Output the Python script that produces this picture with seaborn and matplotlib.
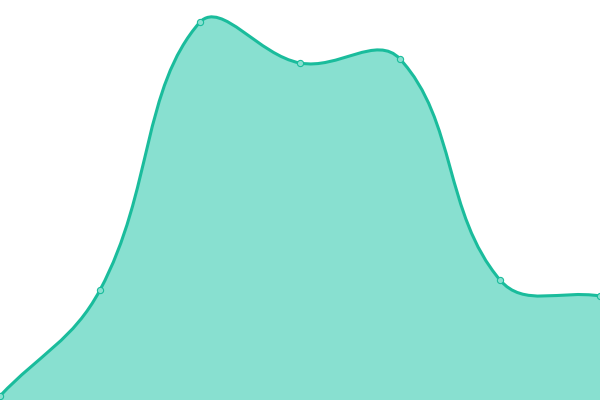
import numpy as np
import pandas as pd
import matplotlib
matplotlib.use("Agg")
import matplotlib.pyplot as plt
from matplotlib.path import Path
from matplotlib.patches import PathPatch
import seaborn as sns

# data
categories = [0, 1, 2, 3, 4, 5, 6]
values = [4, 110, 378, 337, 341, 120, 104]

LINE = "#1abc9c"
FILL = "#88e0d0"
TENSION = 0.4

sns.set_theme(style="white")

W, H = 600, 400
fig = plt.figure(figsize=(W / 100, H / 100), dpi=100)
ax = fig.add_axes([0, 0, 1, 1])
ax.set_xlim(0, 6)
ax.set_ylim(0, 400)
ax.axis("off")

# Chart.js-style monotone-free cubic spline (tension 0.4) computed in pixel space
sx = W / 6.0
sy = H / 400.0
px = np.array(categories, float) * sx
py = np.array(values, float) * sy
n = len(px)
cp_prev = np.zeros((n, 2))
cp_next = np.zeros((n, 2))
for i in range(n):
    cur = np.array([px[i], py[i]])
    prev = np.array([px[i - 1], py[i - 1]]) if i > 0 else cur
    nxt = np.array([px[i + 1], py[i + 1]]) if i < n - 1 else cur
    d01 = np.hypot(*(cur - prev))
    d12 = np.hypot(*(nxt - cur))
    tot = d01 + d12
    s01 = d01 / tot if tot else 0
    s12 = d12 / tot if tot else 0
    fa = TENSION * s01
    fb = TENSION * s12
    cp_prev[i] = cur - fa * (nxt - prev)
    cp_next[i] = cur + fb * (nxt - prev)
# cap to chart area
cp_prev[:, 0] = np.clip(cp_prev[:, 0], 0, W)
cp_next[:, 0] = np.clip(cp_next[:, 0], 0, W)
cp_prev[:, 1] = np.clip(cp_prev[:, 1], 0, H)
cp_next[:, 1] = np.clip(cp_next[:, 1], 0, H)

verts = [(px[0], py[0])]
codes = [Path.MOVETO]
for i in range(n - 1):
    verts += [tuple(cp_next[i]), tuple(cp_prev[i + 1]), (px[i + 1], py[i + 1])]
    codes += [Path.CURVE4] * 3
verts = [(x / sx, y / sy) for x, y in verts]

line_path = Path(verts, codes)
fill_verts = verts + [(categories[-1], 0), (categories[0], 0), verts[0]]
fill_codes = codes + [Path.LINETO, Path.LINETO, Path.CLOSEPOLY]
fill_path = Path(fill_verts, fill_codes)

ax.add_patch(PathPatch(fill_path, facecolor=FILL, edgecolor="none", zorder=1))
ax.add_patch(PathPatch(line_path, facecolor="none", edgecolor=LINE, lw=2.2,
                       capstyle="round", joinstyle="round", zorder=2))

df = pd.DataFrame({"x": categories, "y": values})
sns.scatterplot(data=df, x="x", y="y", ax=ax, s=20, color=FILL,
                edgecolor=LINE, linewidth=0.8, zorder=3, legend=False)
ax.set_xlim(0, 6)
ax.set_ylim(0, 400)
ax.axis("off")

fig.savefig("out.png", dpi=100)
